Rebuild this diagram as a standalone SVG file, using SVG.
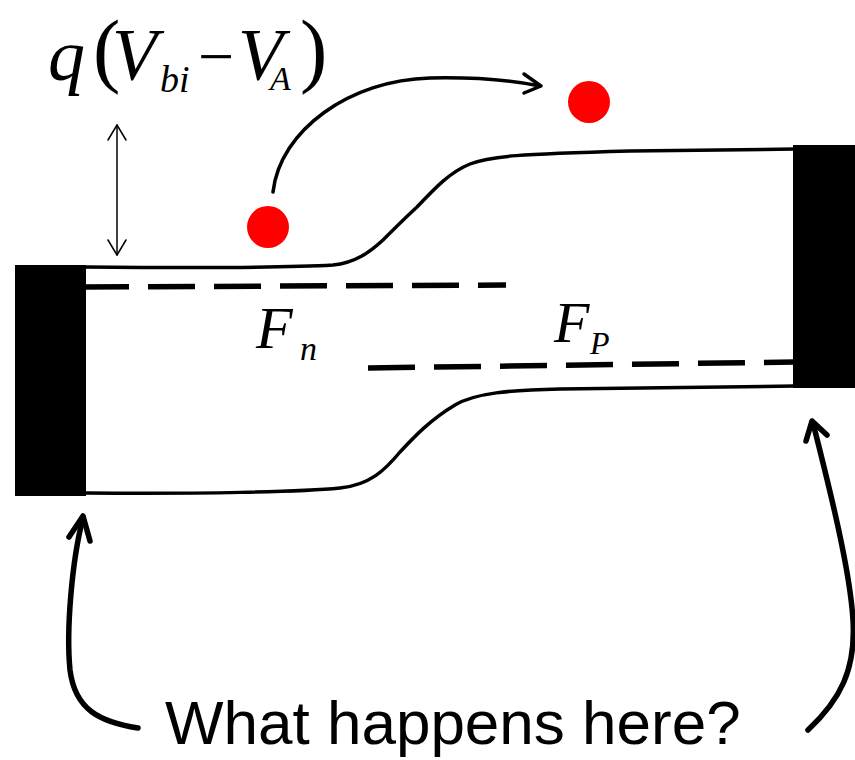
<svg xmlns="http://www.w3.org/2000/svg" width="855" height="760" viewBox="0 0 855 760">
<style>
.band{fill:none;stroke:#000;stroke-width:3.5;stroke-linecap:round}
.fermi{fill:none;stroke:#000;stroke-width:5.5;stroke-dasharray:47 19}
.block{fill:#000}
.ball{fill:#ff0000}
.math{font-family:"Liberation Serif","Times New Roman",serif;font-style:italic;fill:#000}
.up{font-family:"Liberation Serif","Times New Roman",serif;fill:#000}
.conn{fill:none;stroke:#000;stroke-linecap:round;stroke-linejoin:round}
.label{font-family:"Liberation Sans",Arial,sans-serif;font-size:62px;fill:#000}
</style>
<rect width="855" height="760" fill="#fff"/>
<g id="bands">
<path class="band" d="M86,267 C200,268 300,267 333,265 C355,263 370,252 383,240 C395,228 405,218 417,207 C435,188 450,172 470,164 C490,156 520,154 630,151 L795,149"/>
<path class="band" d="M86,493 C200,494 300,492 340,488 C370,485 385,470 400,452 C415,436 430,420 455,405 C475,393 510,390 560,389 L795,386"/>
</g>
<g id="fermi-levels">
<line class="fermi" x1="82" y1="287" x2="506" y2="285"/>
<line class="fermi" x1="368" y1="368" x2="795" y2="362"/>
</g>
<g id="left-contact"><rect class="block" x="15" y="265" width="71" height="231"/></g>
<g id="right-contact"><rect class="block" x="793" y="145" width="62" height="243"/></g>
<g id="electron-1"><circle class="ball" cx="268" cy="227" r="21"/></g>
<g id="electron-2"><circle class="ball" cx="589" cy="102" r="21"/></g>
<g id="formula">
<text class="math" x="48" y="80" font-size="74">q</text>
<text class="up" x="93" y="77" font-size="82">(</text>
<text class="math" x="112" y="80" font-size="74">V</text>
<text class="math" x="160" y="92" font-size="38">bi</text>
<text class="up" x="198" y="78" font-size="64">−</text>
<text class="math" x="238" y="80" font-size="74">V</text>
<text class="math" x="270" y="90" font-size="34">A</text>
<text class="up" x="300" y="77" font-size="82">)</text>
</g>
<g id="fn-label">
<text class="math" x="256" y="348" font-size="60">F</text>
<text class="math" x="300" y="360" font-size="34">n</text>
</g>
<g id="fp-label">
<text class="math" x="554" y="342" font-size="58">F</text>
<text class="math" x="590" y="354" font-size="32">P</text>
</g>
<g id="question"><text class="label" x="165" y="744">What happens here?</text></g>
<g id="connectors">
<line class="conn" stroke-width="1.5" x1="117" y1="125" x2="117" y2="255"/>
<polyline class="conn" stroke-width="1.5" points="108,140 117,125 126,140"/>
<polyline class="conn" stroke-width="1.5" points="108,240 117,255 126,240"/>
<path class="conn" stroke-width="3.5" d="M273,192 C280,130 350,80 430,78 C480,77 520,82 540,86"/>
<polyline class="conn" stroke-width="3.5" points="524,74 541,86 524,93"/>
<path class="conn" stroke-width="5.5" d="M138,728 C100,722 75,710 70,670 C66,630 72,560 83,518"/>
<polyline class="conn" stroke-width="5.5" points="69,537 83,516 90,541"/>
<path class="conn" stroke-width="5.5" d="M808,730 C840,700 856,670 853,620 C850,570 830,490 813,423"/>
<polyline class="conn" stroke-width="5.5" points="806,441 812,421 827,435"/>
</g>
</svg>
